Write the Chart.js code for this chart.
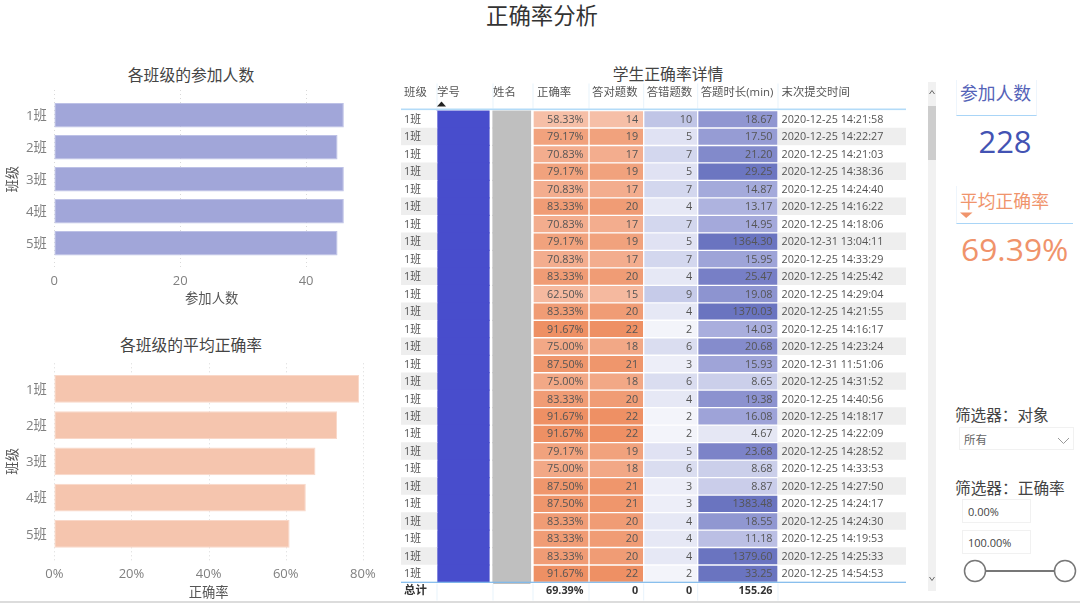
<!DOCTYPE html>
<html>
<head>
<meta charset="utf-8">
<script src="https://cdn.jsdelivr.net/npm/chart.js@4/dist/chart.umd.js"></script>
<style>
html, body { margin: 0; padding: 0; background: #fff; }
body { width: 1080px; height: 603px; overflow: hidden; position: relative; font-family: "Open Sans", "Noto Sans CJK SC", sans-serif; }
canvas { position: absolute; }
.t { position: absolute; white-space: nowrap; line-height: 1; }
.box { position: absolute; box-sizing: border-box; }
svg { position: absolute; left: 0; top: 0; }
</style>
</head>
<body>
<div class="t" style="left:342px;width:400px;text-align:center;top:4px;font-size:22.4px;line-height:24px;color:#333">正确率分析</div>
<div class="t" style="left:0;width:382px;text-align:center;top:66px;font-size:15.8px;line-height:18px;color:#444">各班级的参加人数</div>
<div class="t" style="left:0;width:382px;text-align:center;top:336px;font-size:15.8px;line-height:18px;color:#444">各班级的平均正确率</div>
<div class="t" style="left:468px;width:400px;text-align:center;top:65px;font-size:15.8px;line-height:18px;color:#444">学生正确率详情</div>

<canvas id="countChart" width="390" height="250" style="left:0;top:60px"></canvas>
<canvas id="rateChart" width="390" height="273" style="left:0;top:330px"></canvas>
<canvas id="detailChart" width="505" height="526" style="left:401px;top:76px"></canvas>

<!-- scrollbar -->
<div class="box" style="left:928px;top:82px;width:8px;height:509px;background:#f1f1f1"></div>
<div class="box" style="left:928px;top:106px;width:8px;height:54px;background:#cdcdcd"></div>

<!-- KPI cards -->
<div class="box" style="left:956px;top:80px;width:81px;height:36px;border-left:1px solid #eef5fc;border-right:1px solid #eef5fc;border-bottom:1.5px solid #a9d5f7"></div>
<div class="t" style="left:960px;top:83px;font-size:17.8px;line-height:20px;color:#5563b8">参加人数</div>
<div class="t" style="left:940px;width:130px;text-align:center;top:122px;font-size:31px;line-height:38px;color:#4353b3">228</div>
<div class="box" style="left:956px;top:186px;width:117px;height:38px;border-left:1px solid #eef5fc;border-bottom:1.5px solid #a9d5f7"></div>
<div class="t" style="left:960px;top:191px;font-size:17.8px;line-height:20px;color:#f0946c">平均正确率</div>
<div class="t" style="left:961px;top:230px;font-size:31.8px;line-height:38px;color:#f0936b">69.39%</div>

<!-- slicers -->
<div class="t" style="left:955px;top:406px;font-size:15.6px;line-height:18px;color:#444">筛选器：对象</div>
<div class="box" style="left:959px;top:427px;width:115px;height:23px;border:1px solid #f1f1f1"></div>
<div class="t" style="left:964px;top:433px;font-size:11.5px;line-height:13px;color:#666">所有</div>
<div class="t" style="left:955px;top:479px;font-size:15.7px;line-height:18px;color:#444">筛选器：正确率</div>
<div class="box" style="left:962px;top:499px;width:69px;height:24px;border:1px solid #f1f1f1"></div>
<div class="t" style="left:968px;top:505px;font-size:11px;line-height:13px;color:#444">0.00%</div>
<div class="box" style="left:962px;top:530px;width:69px;height:24px;border:1px solid #f1f1f1"></div>
<div class="t" style="left:968px;top:536px;font-size:11px;line-height:13px;color:#444">100.00%</div>

<svg width="1080" height="603">
  <polyline points="929.5,94 932,90.5 934.5,94" fill="none" stroke="#666" stroke-width="1"/>
  <polyline points="929.5,577 932,580.5 934.5,577" fill="none" stroke="#666" stroke-width="1"/>
  <polyline points="1058,438 1063.5,443.5 1069,438" fill="none" stroke="#999" stroke-width="1"/>
  <polygon points="960,212.5 972.5,212.5 966.2,218" fill="#f0946c"/>
  <line x1="985" y1="571" x2="1055" y2="571" stroke="#777" stroke-width="2"/>
  <circle cx="975" cy="571" r="10.5" fill="#fff" stroke="#777" stroke-width="1.5"/>
  <circle cx="1065" cy="571" r="10.5" fill="#fff" stroke="#777" stroke-width="1.5"/>
</svg>
<div class="box" style="left:0;top:601px;width:1080px;height:2px;background:#dcdcdc"></div>

<script>
// bar charts
var classNames = ['1班', '2班', '3班', '4班', '5班'];
var classCounts = [46, 45, 46, 46, 45];
var classRates = [79.0, 73.3, 67.7, 65.2, 61.0];
var countTicks = [0, 20, 40];
var rateTicks = [0, 20, 40, 60, 80];

// detail table, one entry per row
var rowClass = ['1班', '1班', '1班', '1班', '1班', '1班', '1班', '1班', '1班', '1班', '1班', '1班', '1班', '1班', '1班', '1班', '1班', '1班', '1班', '1班', '1班', '1班', '1班', '1班', '1班', '1班', '1班'];
var rowRate = [58.33, 79.17, 70.83, 79.17, 70.83, 83.33, 70.83, 79.17, 70.83, 83.33, 62.50, 83.33, 91.67, 75.00, 87.50, 75.00, 83.33, 91.67, 91.67, 79.17, 75.00, 87.50, 87.50, 83.33, 83.33, 83.33, 91.67];
var rowRight = [14, 19, 17, 19, 17, 20, 17, 19, 17, 20, 15, 20, 22, 18, 21, 18, 20, 22, 22, 19, 18, 21, 21, 20, 20, 20, 22];
var rowWrong = [10, 5, 7, 5, 7, 4, 7, 5, 7, 4, 9, 4, 2, 6, 3, 6, 4, 2, 2, 5, 6, 3, 3, 4, 4, 4, 2];
var rowMinutes = [18.67, 17.50, 21.20, 29.25, 14.87, 13.17, 14.95, 1364.30, 15.95, 25.47, 19.08, 1370.03, 14.03, 20.68, 15.93, 8.65, 19.38, 16.08, 4.67, 23.68, 8.68, 8.87, 1383.48, 18.55, 11.18, 1379.60, 33.25];
var rowSubmit = ['2020-12-25 14:21:58', '2020-12-25 14:22:27', '2020-12-25 14:21:03', '2020-12-25 14:38:36', '2020-12-25 14:24:40', '2020-12-25 14:16:22', '2020-12-25 14:18:06', '2020-12-31 13:04:11', '2020-12-25 14:33:29', '2020-12-25 14:25:42', '2020-12-25 14:29:04', '2020-12-25 14:21:55', '2020-12-25 14:16:17', '2020-12-25 14:23:24', '2020-12-31 11:51:06', '2020-12-25 14:31:52', '2020-12-25 14:40:56', '2020-12-25 14:18:17', '2020-12-25 14:22:09', '2020-12-25 14:28:52', '2020-12-25 14:33:53', '2020-12-25 14:27:50', '2020-12-25 14:24:17', '2020-12-25 14:24:30', '2020-12-25 14:19:53', '2020-12-25 14:25:33', '2020-12-25 14:54:53'];
var totalLabel = '总计';
var totalRate = '69.39%';
var totalRight = '0';
var totalWrong = '0';
var totalMinutes = '155.26';

var FONT = '"Open Sans", "Noto Sans CJK SC", sans-serif';
Chart.defaults.font.family = FONT;
Chart.defaults.animation = false;

// mix between colour stops, value -> rgb
function ramp(stops, v) {
    if (v <= stops[0][0]) return 'rgb(' + stops[0].slice(1).join(',') + ')';
    for (var i = 1; i < stops.length; i++) {
        if (v <= stops[i][0]) {
            var a = stops[i - 1], b = stops[i], t = (v - a[0]) / (b[0] - a[0]);
            return 'rgb(' + [1, 2, 3].map(function (k) { return Math.round(a[k] + (b[k] - a[k]) * t); }).join(',') + ')';
        }
    }
    return 'rgb(' + stops[stops.length - 1].slice(1).join(',') + ')';
}
var orangeStops = [[58.33, 246, 191, 167], [91.67, 238, 144, 100]];
var wrongStops = [[2, 243, 244, 250], [10, 192, 197, 230]];
var minuteStops = [[4.67, 229, 231, 244], [14, 169, 174, 221], [21, 131, 138, 203], [30, 106, 116, 192]];

// dotted gridlines that run a bit past the category band
var dottedGrid = {
    id: 'dottedGrid',
    beforeDatasetsDraw: function (chart, args, opts) {
        var ctx = chart.ctx, area = chart.chartArea, x = chart.scales.x;
        ctx.save();
        ctx.strokeStyle = '#d9d9d9';
        ctx.setLineDash([1, 3]);
        x.ticks.forEach(function (t) {
            var px = Math.round(x.getPixelForValue(t.value)) + 0.5;
            ctx.beginPath();
            ctx.moveTo(px, area.top - opts.above);
            ctx.lineTo(px, area.bottom + opts.below);
            ctx.stroke();
        });
        ctx.restore();
    }
};

function barChart(id, values, cfg) {
    return new Chart(document.getElementById(id), {
        type: 'bar',
        plugins: [dottedGrid],
        data: {
            labels: classNames,
            datasets: [{
                data: values,
                backgroundColor: cfg.fill,
                borderColor: cfg.edge,
                borderWidth: 1,
                borderSkipped: false,
                barPercentage: cfg.bar,
                categoryPercentage: 1
            }]
        },
        options: {
            indexAxis: 'y',
            responsive: false,
            layout: { padding: { top: cfg.top, right: cfg.right, left: 0, bottom: 0 } },
            plugins: {
                legend: { display: false },
                tooltip: { enabled: false },
                dottedGrid: { above: cfg.above, below: cfg.below }
            },
            scales: {
                x: {
                    min: 0,
                    max: cfg.max,
                    grid: { display: false, drawTicks: false },
                    border: { display: false },
                    afterBuildTicks: function (s) {
                        s.ticks = cfg.ticks.map(function (v) { return { value: v }; });
                    },
                    afterFit: function (s) { s.height = cfg.bottom; },
                    ticks: {
                        padding: cfg.tickPad,
                        color: '#808080',
                        font: { size: 13 },
                        maxRotation: 0,
                        callback: cfg.format
                    },
                    title: {
                        display: true,
                        text: cfg.xTitle,
                        color: '#555',
                        font: { size: 13.3 },
                        padding: { top: 0, bottom: cfg.titlePad }
                    }
                },
                y: {
                    grid: { display: false, drawTicks: false },
                    border: { display: false },
                    afterFit: function (s) { s.width = 54.3; },
                    ticks: { padding: 7.5, labelOffset: 1, color: '#808080', font: { size: 13.3 } },
                    title: {
                        display: true,
                        text: '班级',
                        color: '#555',
                        font: { size: 13.3 },
                        padding: { top: 5, bottom: 0 }
                    }
                }
            }
        }
    });
}

barChart('countChart', classCounts, {
    fill: '#a1a6d9', edge: '#bdc1e6', bar: 0.77, top: 39.3, right: 21, above: 9.3, below: 8.7,
    max: 50, ticks: countTicks, bottom: 50.7, tickPad: 14, titlePad: 2.7, xTitle: '参加人数',
    format: function (v) { return v; }
});
barChart('rateChart', classRates, {
    fill: '#f5c5ae', edge: '#f9d8c9', bar: 0.764, top: 40.7, right: 26.3, above: 7.4, below: 9.7,
    max: 80, ticks: rateTicks, bottom: 51, tickPad: 14.3, titlePad: 2.3, xTitle: '正确率',
    format: function (v) { return v + '%'; }
});

// detail table: one stacked horizontal bar per row, one dataset per column
var rowIndex = rowRate.map(function (v, i) { return i; });
function stripe(i) { return i % 2 === 1 ? '#eeeeee' : '#ffffff'; }
function pct(v) { return v.toFixed(2) + '%'; }
function plain(v) { return String(v); }
function two(v) { return v.toFixed(2); }

var columns = [
    { head: '班级', span: 36, headX: 3, fill: stripe, text: rowClass, format: plain, left: true },
    { head: '学号', span: 52, headX: 0, solid: true, fill: function () { return '#484dcc'; } },
    { span: 4 },
    { head: '姓名', span: 37.5, headX: 0, solid: true, fill: function () { return '#bfbfbf'; } },
    { span: 2.5 },
    { head: '正确率', span: 56, headX: 4, cell: true, text: rowRate, format: pct, total: totalRate, fill: function (i) { return ramp(orangeStops, rowRate[i]); } },
    { head: '答对题数', span: 54.7, headX: 3, cell: true, text: rowRight, format: plain, total: totalRight, fill: function (i) { return ramp(orangeStops, rowRate[i]); } },
    { head: '答错题数', span: 54, headX: 3, cell: true, text: rowWrong, format: plain, total: totalWrong, fill: function (i) { return ramp(wrongStops, rowWrong[i]); } },
    { head: '答题时长(min)', span: 80.3, headX: 3, cell: true, text: rowMinutes, format: two, total: totalMinutes, fill: function (i) { return ramp(minuteStops, rowMinutes[i]); } },
    { head: '末次提交时间', span: 128, headX: 3.5, fill: stripe, text: rowSubmit, format: plain, left: true, padLeft: 3.5 }
];

var tableDrawing = {
    id: 'tableDrawing',
    afterDatasetsDraw: function (chart) {
        var ctx = chart.ctx, area = chart.chartArea;
        ctx.save();

        // grey block runs slightly into the total row
        var nameRow = chart.getDatasetMeta(3).data;
        ctx.fillStyle = '#bfbfbf';
        ctx.fillRect(nameRow[0].base, area.bottom - 1, nameRow[0].x - nameRow[0].base, 2.5);

        ctx.textBaseline = 'middle';
        columns.forEach(function (col, c) {
            var els = chart.getDatasetMeta(c).data;
            if (!col.head) return;

            // column separators in header and footer
            ctx.fillStyle = '#e8f3fc';
            if (c > 0) {
                ctx.fillRect(els[0].base - 0.5, area.top - 27, 1, 25);
                ctx.fillRect(els[0].base - 0.5, area.bottom + 1, 1, 17);
            }

            ctx.font = '11.4px ' + FONT;
            ctx.fillStyle = '#555';
            ctx.textAlign = 'left';
            ctx.fillText(col.head, els[0].base + col.headX, area.top - 18);

            if (col.text) {
                ctx.font = '10.8px ' + FONT;
                col.text.forEach(function (v, i) {
                    var el = els[i];
                    if (col.left) {
                        ctx.textAlign = 'left';
                        ctx.fillText(col.format(v), el.base + (col.padLeft || 3), el.y + 0.5);
                    } else {
                        ctx.textAlign = 'right';
                        ctx.fillText(col.format(v), el.x - 5.5, el.y + 0.5);
                    }
                });
            }
            if (col.total) {
                ctx.font = 'bold 10.8px ' + FONT;
                ctx.fillStyle = '#333';
                ctx.textAlign = 'right';
                ctx.fillText(col.total, els[0].x - 5.5, area.bottom + 8);
            }
        });

        ctx.font = 'bold 11.4px ' + FONT;
        ctx.fillStyle = '#333';
        ctx.textAlign = 'left';
        ctx.fillText(totalLabel, area.left + 3, area.bottom + 8);

        // sort arrow on 学号 and the two table rules
        var idEl = chart.getDatasetMeta(1).data[0];
        ctx.fillStyle = '#222';
        ctx.beginPath();
        ctx.moveTo(idEl.base + 0, area.top - 4);
        ctx.lineTo(idEl.base + 4.5, area.top - 9);
        ctx.lineTo(idEl.base + 9, area.top - 4);
        ctx.closePath();
        ctx.fill();

        ctx.fillStyle = '#b3dbf8';
        ctx.fillRect(area.left, area.top - 2, area.right - area.left, 1.6);
        ctx.fillStyle = '#7db9ec';
        ctx.fillRect(area.left, area.bottom - 0.8, area.right - area.left, 1.2);
        ctx.restore();
    }
};

new Chart(document.getElementById('detailChart'), {
    type: 'bar',
    plugins: [tableDrawing],
    data: {
        labels: rowIndex,
        datasets: columns.map(function (col) {
            return {
                label: col.head || '',
                data: rowIndex.map(function () { return col.span; }),
                backgroundColor: rowIndex.map(function (i) { return col.fill ? col.fill(i) : 'rgba(0,0,0,0)'; }),
                borderColor: col.cell ? 'rgba(255,255,255,0.28)' : 'rgba(0,0,0,0)',
                borderWidth: col.cell ? 1 : 0,
                borderSkipped: false,
                inflateAmount: col.solid ? 0.6 : 'auto',
                barPercentage: 1,
                categoryPercentage: 1
            };
        })
    },
    options: {
        indexAxis: 'y',
        responsive: false,
        layout: { padding: { top: 34.5, bottom: 19.5, left: 0, right: 0 } },
        plugins: { legend: { display: false }, tooltip: { enabled: false } },
        scales: {
            x: { stacked: true, display: false, min: 0, max: 505 },
            y: { stacked: true, display: false }
        }
    }
});
</script>
</body>
</html>
